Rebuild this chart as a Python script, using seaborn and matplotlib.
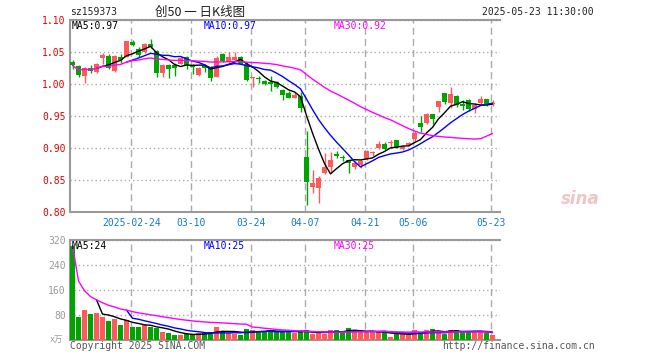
import matplotlib
import numpy as np
import pandas as pd
import seaborn as sns
from matplotlib import pyplot as plt

matplotlib.use("Agg")

# trading days 2025-02-10 .. 2025-05-23 (holidays dropped)
holidays = pd.to_datetime(["2025-04-04", "2025-05-01", "2025-05-02", "2025-05-05"])
dates = pd.bdate_range("2025-02-10", "2025-05-23")
dates = dates[~dates.isin(holidays)]

opens = [1.035, 1.028, 1.0125, 1.025, 1.0188, 1.040, 1.0438, 1.0208, 1.0417, 1.0427,
         1.0656, 1.055, 1.0505, 1.0625, 1.051, 1.0177, 1.0297, 1.0297, 1.0318, 1.0417,
         1.0297, 1.0141, 1.0281, 1.0245, 1.0104, 1.0469, 1.0349, 1.037, 1.0422, 1.0313,
         1.0099, 1.0078, 1.0047, 1.0036, 1.0026, 0.9906, 0.9854, 0.9786, 0.981, 0.886,
         0.839, 0.8375, 0.8604, 0.870, 0.891, 0.8865, 0.8813, 0.8708, 0.8734, 0.8823,
         0.8917, 0.900, 0.9057, 0.9073, 0.9125, 0.899, 0.9042, 0.9135, 0.9396, 0.9396,
         0.9526, 0.9636, 0.9865, 0.9698, 0.981, 0.968, 0.975, 0.961, 0.9708, 0.9766, 0.9688]
closes = [1.029, 1.0146, 1.0255, 1.0208, 1.0313, 1.046, 1.0255, 1.0443, 1.0375, 1.0672,
          1.0615, 1.046, 1.062, 1.0573, 1.0177, 1.0297, 1.0234, 1.0245, 1.0411, 1.0297,
          1.0266, 1.0255, 1.0245, 1.0099, 1.0411, 1.0359, 1.0422, 1.0422, 1.0318, 1.0063,
          1.0104, 1.0073, 0.9995, 1.000, 0.9948, 0.9828, 0.9776, 0.9828, 0.963, 0.847,
          0.846, 0.8526, 0.870, 0.882, 0.888, 0.8844, 0.8771, 0.8771, 0.880, 0.8958,
          0.8927, 0.9057, 0.8984, 0.9083, 0.901, 0.9015, 0.9073, 0.924, 0.9323, 0.9526,
          0.9448, 0.974, 0.9714, 0.984, 0.967, 0.965, 0.9604, 0.967, 0.977, 0.967, 0.9708]
highs = [1.0375, 1.030, 1.0271, 1.0297, 1.0333, 1.048, 1.0464, 1.0453, 1.0464, 1.0672,
         1.0688, 1.058, 1.0635, 1.0703, 1.053, 1.0318, 1.0318, 1.0333, 1.0438, 1.0443,
         1.0318, 1.0266, 1.0318, 1.0276, 1.0443, 1.048, 1.0495, 1.0495, 1.0438, 1.0349,
         1.0115, 1.0125, 1.0057, 1.012, 1.004, 0.992, 0.9885, 0.987, 0.988, 0.927,
         0.865, 0.856, 0.892, 0.893, 0.896, 0.889, 0.882, 0.8792, 0.882, 0.897,
         0.8953, 0.9115, 0.9094, 0.912, 0.913, 0.905, 0.9094, 0.9265, 0.950, 0.9542,
         0.9526, 0.974, 0.9865, 0.9948, 0.983, 0.975, 0.9766, 0.9708, 0.9812, 0.9766, 0.975]
lows = [1.023, 1.0115, 1.002, 1.0177, 1.0167, 1.032, 1.0229, 1.0193, 1.0323, 1.0427,
        1.0594, 1.0427, 1.049, 1.0557, 1.0115, 1.0115, 1.0099, 1.0125, 1.0307, 1.023,
        1.0151, 1.0125, 1.0193, 1.0047, 1.0104, 1.0349, 1.0339, 1.0339, 1.0307, 1.0047,
        0.9948, 1.001, 0.998, 0.989, 0.994, 0.975, 0.9776, 0.9776, 0.957, 0.811,
        0.829, 0.8146, 0.859, 0.863, 0.884, 0.880, 0.8604, 0.8677, 0.868, 0.882,
        0.887, 0.899, 0.8969, 0.900, 0.900, 0.8965, 0.9026, 0.911, 0.9255, 0.938,
        0.937, 0.957, 0.969, 0.962, 0.964, 0.959, 0.9578, 0.955, 0.969, 0.966, 0.965]
# volume in 万
volumes = [302, 75, 96, 83, 86, 74, 61, 68, 48, 64,
           42, 42, 47, 41, 39, 26, 22, 16, 16, 20,
           15, 23, 21, 26, 42, 27, 21, 20, 16, 35,
           32, 29, 25, 30, 26, 30, 27, 23, 25, 32,
           19, 23, 19, 33, 33, 24, 40, 26, 25, 26,
           25, 26, 25, 10, 18, 19, 19, 33, 19, 32,
           36, 26, 18, 32, 33, 25, 25, 25, 30, 24, 15]

date_labels = ["2025-02-24", "03-10", "03-24", "04-07", "04-21", "05-06", "05-23"]
label_dates = ["2025-02-24", "2025-03-10", "2025-03-24", "2025-04-07",
               "2025-04-21", "2025-05-06", "2025-05-23"]

RED = "#ff5a5a"
GREEN = "#00a400"
GRID = "#aaaaaa"
AXIS = "#999999"
MA_COLORS = {"MA5": "black", "MA10": "#0000ff", "MA30": "#ff00ff"}

df = pd.DataFrame({"date": dates, "open": opens, "close": closes,
                   "high": highs, "low": lows, "vol": volumes})
df["idx"] = np.arange(len(df))
df["dir"] = np.where(df["close"] >= df["open"], "up", "down")
for name, src in (("p", "close"), ("v", "vol")):
    df[f"{name}MA5"] = df[src].rolling(5).mean()
    df[f"{name}MA10"] = df[src].rolling(10).mean()
    df[f"{name}MA30"] = df[src].rolling(30, min_periods=1).mean()

sns.set_style("white")
plt.rcParams["font.family"] = ["DejaVu Sans Mono", "Noto Sans CJK SC"]

W, H = 660, 360
fig = plt.figure(figsize=(W / 100, H / 100), dpi=100)


def rect(l, t, r, b):
    return [l / W, 1 - b / H, (r - l) / W, (b - t) / H]


def ftext(x, y, s, **kw):
    fig.text(x / W, 1 - y / H, s, va="center", **kw)


ax_p = fig.add_axes(rect(70, 20, 500, 212))
ax_v = fig.add_axes(rect(70, 240, 500, 340))

tick_pos = [df.index[df["date"] == pd.Timestamp(d)][0] - 0.2 for d in label_dates]
xlim = (-0.42, 71.25)

# candles
colors = np.where(df["dir"] == "up", RED, GREEN)
ax_p.vlines(df["idx"], df["low"], df["high"], colors=colors, lw=1, zorder=2)
body_lo = np.minimum(df["open"], df["close"])
body_h = np.maximum((df["close"] - df["open"]).abs(), 0.0016)
ax_p.bar(df["idx"], body_h, bottom=body_lo, width=0.8, color=colors, lw=0, zorder=3)

for ma, c in MA_COLORS.items():
    sns.lineplot(data=df, x="idx", y=f"p{ma}", color=c, lw=1, ax=ax_p, zorder=4)

# volume bars
sns.barplot(data=df, x="idx", y="vol", hue="dir", palette={"up": RED, "down": GREEN},
            native_scale=True, dodge=False, width=0.8, errorbar=None, saturation=1,
            legend=False, linewidth=0, ax=ax_v, zorder=3)
for ma, c in MA_COLORS.items():
    sns.lineplot(data=df, x="idx", y=f"v{ma}", color=c, lw=1, ax=ax_v, zorder=4)

for ax in (ax_p, ax_v):
    ax.set_xlim(*xlim)
    ax.set_xlabel("")
    ax.set_ylabel("")
    ax.set_xticks(tick_pos)
    ax.tick_params(length=0)
    ax.grid(True, axis="x", color=GRID, lw=1, ls=(0, (5, 3)))
    ax.grid(True, axis="y", color=GRID, lw=1, ls=(0, (1, 2)))
    ax.set_axisbelow(True)
    for s in ("left", "bottom", "top"):
        ax.spines[s].set_color(AXIS)
        ax.spines[s].set_linewidth(1.5)
    ax.spines["right"].set_visible(False)

ax_p.set_ylim(0.80, 1.10)
ax_p.set_yticks(np.arange(0.80, 1.101, 0.05))
ax_p.set_yticklabels([f"{v:.2f}" for v in np.arange(0.80, 1.101, 0.05)])
ax_p.tick_params(axis="y", colors="#e60000", labelsize=7, pad=3)
ax_p.set_xticklabels(date_labels)
ax_p.tick_params(axis="x", colors="#1478d2", labelsize=7, pad=4)

ax_v.set_ylim(0, 320)
ax_v.set_yticks([0, 80, 160, 240, 320])
ax_v.set_yticklabels(["", "80", "160", "240", "320"])
ax_v.tick_params(axis="y", colors="#999999", labelsize=7, pad=3)
ax_v.set_xticklabels([])

last = df.iloc[-1]
ftext(72, 26, f"MA5:{last['pMA5']:.2f}", color="black", fontsize=7)
ftext(204, 26, f"MA10:{last['pMA10']:.2f}", color="#0000ff", fontsize=7)
ftext(334, 26, f"MA30:{last['pMA30']:.2f}", color="#ff00ff", fontsize=7)
ftext(72, 246, f"MA5:{last['vMA5']:.0f}", color="black", fontsize=7)
ftext(204, 246, f"MA10:{last['vMA10']:.0f}", color="#0000ff", fontsize=7)
ftext(334, 246, f"MA30:{last['vMA30']:.0f}", color="#ff00ff", fontsize=7)

ftext(70, 12, "sz159373", color="#222222", fontsize=7)
ftext(200, 12, "创50 一 日K线图", color="#222222", fontsize=9, ha="center",
      family=["Noto Sans CJK SC", "DejaVu Sans"])
ftext(482, 12, "2025-05-23 11:30:00", color="#222222", fontsize=7)
ftext(63, 339, "x万", color="#999999", fontsize=6, ha="right",
      family=["DejaVu Sans Mono", "Noto Sans CJK SC"])
ftext(70, 346, "Copyright 2025 SINA.COM", color="#555555", fontsize=7)
ftext(442, 346, "http://finance.sina.com.cn", color="#555555", fontsize=7)
ftext(580, 199, "sina", color="#f2c4c4", fontsize=12, ha="center",
      family="DejaVu Sans", style="italic", weight="bold")

fig.savefig("out.png", dpi=100)
